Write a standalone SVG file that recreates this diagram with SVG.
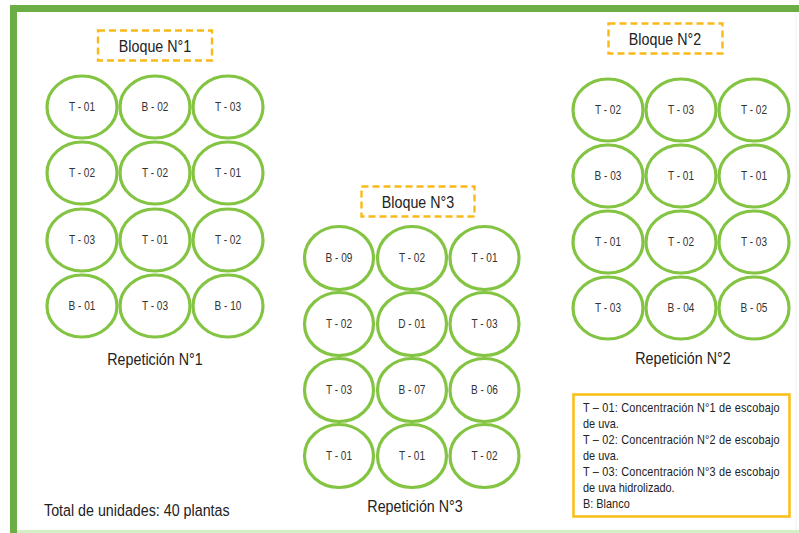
<svg xmlns="http://www.w3.org/2000/svg" width="799" height="533" viewBox="0 0 799 533">
  <style>
    .frame { fill: none; stroke: #6BAE45; }
    .plot ellipse { fill: #FFFFFF; stroke: #83C443; stroke-width: 3.2; }
    .plot text { font-family: "Liberation Sans", Arial, sans-serif; font-size: 12px; fill: #333333; text-anchor: middle;
                 transform-box: fill-box; transform-origin: center; transform: scaleX(0.84); }
    .tag rect { fill: none; stroke: #F9B91A; stroke-width: 2.4; stroke-dasharray: 7 4; }
    .title { font-family: "Liberation Sans", Arial, sans-serif; font-size: 17px; fill: #222222; text-anchor: middle;
             transform-box: fill-box; transform-origin: center; transform: scaleX(0.84); }
    .lead { font-family: "Liberation Sans", Arial, sans-serif; font-size: 17px; fill: #222222;
            transform-box: fill-box; transform-origin: left; transform: scaleX(0.84); }
    .note { font-family: "Liberation Sans", Arial, sans-serif; font-size: 13px; fill: #222222;
            transform-box: fill-box; transform-origin: left; transform: scaleX(0.84); }
  </style>

  <!-- page background and frame -->
  <rect x="0" y="0" width="799" height="533" fill="#FFFFFF"/>
  <line x1="17" y1="531.5" x2="799" y2="531.5" stroke="#D4EFC3" stroke-width="3"/>
  <line x1="796" y1="12" x2="796" y2="530" stroke="#F0F0F0" stroke-width="1"/>
  <line class="frame" x1="10" y1="8.5" x2="799" y2="8.5" stroke-width="7"/>
  <line class="frame" x1="13.5" y1="5" x2="13.5" y2="533" stroke-width="7"/>

  <!-- Block 1 -->
  <g id="bloque1">
    <g class="tag"><rect x="98" y="30.5" width="114" height="30"/></g>
    <text class="title" x="155" y="52">Bloque N°1</text>
    <g class="plot">
      <ellipse cx="82" cy="107" rx="35" ry="31"/><text x="82" y="111.3">T - 01</text>
      <ellipse cx="155" cy="107" rx="35" ry="31"/><text x="155" y="111.3">B - 02</text>
      <ellipse cx="228" cy="107" rx="35" ry="31"/><text x="228" y="111.3">T - 03</text>
      <ellipse cx="82" cy="173" rx="35" ry="31"/><text x="82" y="177.3">T - 02</text>
      <ellipse cx="155" cy="173" rx="35" ry="31"/><text x="155" y="177.3">T - 02</text>
      <ellipse cx="228" cy="173" rx="35" ry="31"/><text x="228" y="177.3">T - 01</text>
      <ellipse cx="82" cy="240" rx="35" ry="31"/><text x="82" y="244.3">T - 03</text>
      <ellipse cx="155" cy="240" rx="35" ry="31"/><text x="155" y="244.3">T - 01</text>
      <ellipse cx="228" cy="240" rx="35" ry="31"/><text x="228" y="244.3">T - 02</text>
      <ellipse cx="82" cy="306" rx="35" ry="31"/><text x="82" y="310.3">B - 01</text>
      <ellipse cx="155" cy="306" rx="35" ry="31"/><text x="155" y="310.3">T - 03</text>
      <ellipse cx="228" cy="306" rx="35" ry="31"/><text x="228" y="310.3">B - 10</text>
    </g>
    <text class="title" x="155" y="365">Repetición N°1</text>
  </g>

  <!-- Block 2 -->
  <g id="bloque2">
    <g class="tag"><rect x="608.5" y="23.5" width="114" height="30"/></g>
    <text class="title" x="665" y="45">Bloque N°2</text>
    <g class="plot">
      <ellipse cx="608" cy="110" rx="35" ry="31"/><text x="608" y="114.3">T - 02</text>
      <ellipse cx="681" cy="110" rx="35" ry="31"/><text x="681" y="114.3">T - 03</text>
      <ellipse cx="754" cy="110" rx="35" ry="31"/><text x="754" y="114.3">T - 02</text>
      <ellipse cx="608" cy="176" rx="35" ry="31"/><text x="608" y="180.3">B - 03</text>
      <ellipse cx="681" cy="176" rx="35" ry="31"/><text x="681" y="180.3">T - 01</text>
      <ellipse cx="754" cy="176" rx="35" ry="31"/><text x="754" y="180.3">T - 01</text>
      <ellipse cx="608" cy="242" rx="35" ry="31"/><text x="608" y="246.3">T - 01</text>
      <ellipse cx="681" cy="242" rx="35" ry="31"/><text x="681" y="246.3">T - 02</text>
      <ellipse cx="754" cy="242" rx="35" ry="31"/><text x="754" y="246.3">T - 03</text>
      <ellipse cx="608" cy="308" rx="35" ry="31"/><text x="608" y="312.3">T - 03</text>
      <ellipse cx="681" cy="308" rx="35" ry="31"/><text x="681" y="312.3">B - 04</text>
      <ellipse cx="754" cy="308" rx="35" ry="31"/><text x="754" y="312.3">B - 05</text>
    </g>
    <text class="title" x="683" y="364">Repetición N°2</text>
  </g>

  <!-- Block 3 -->
  <g id="bloque3">
    <g class="tag"><rect x="361.5" y="186.5" width="113" height="30"/></g>
    <text class="title" x="418" y="208">Bloque N°3</text>
    <g class="plot">
      <ellipse cx="339" cy="258" rx="34.5" ry="31.5"/><text x="339" y="262.3">B - 09</text>
      <ellipse cx="412" cy="258" rx="34.5" ry="31.5"/><text x="412" y="262.3">T - 02</text>
      <ellipse cx="484.5" cy="258" rx="34.5" ry="31.5"/><text x="484.5" y="262.3">T - 01</text>
      <ellipse cx="339" cy="324" rx="34.5" ry="31.5"/><text x="339" y="328.3">T - 02</text>
      <ellipse cx="412" cy="324" rx="34.5" ry="31.5"/><text x="412" y="328.3">D - 01</text>
      <ellipse cx="484.5" cy="324" rx="34.5" ry="31.5"/><text x="484.5" y="328.3">T - 03</text>
      <ellipse cx="339" cy="390" rx="34.5" ry="31.5"/><text x="339" y="394.3">T - 03</text>
      <ellipse cx="412" cy="390" rx="34.5" ry="31.5"/><text x="412" y="394.3">B - 07</text>
      <ellipse cx="484.5" cy="390" rx="34.5" ry="31.5"/><text x="484.5" y="394.3">B - 06</text>
      <ellipse cx="339" cy="456" rx="34.5" ry="31.5"/><text x="339" y="460.3">T - 01</text>
      <ellipse cx="412" cy="456" rx="34.5" ry="31.5"/><text x="412" y="460.3">T - 01</text>
      <ellipse cx="484.5" cy="456" rx="34.5" ry="31.5"/><text x="484.5" y="460.3">T - 02</text>
    </g>
    <text class="title" x="415" y="512">Repetición N°3</text>
  </g>

  <!-- total count -->
  <g id="total">
    <text class="lead" x="44" y="516">Total de unidades: 40 plantas</text>
  </g>

  <!-- legend -->
  <g id="leyenda">
    <rect x="573.5" y="394.5" width="216" height="122" fill="#FFFFFF" stroke="#F9C01C" stroke-width="2.6"/>
    <text class="note" x="583" y="412.5" textLength="234" lengthAdjust="spacing">T – 01: Concentración N°1 de escobajo</text>
    <text class="note" x="583" y="428.5">de uva.</text>
    <text class="note" x="583" y="444.5" textLength="234" lengthAdjust="spacing">T – 02: Concentración N°2 de escobajo</text>
    <text class="note" x="583" y="460.5">de uva.</text>
    <text class="note" x="583" y="476.5" textLength="234" lengthAdjust="spacing">T – 03: Concentración N°3 de escobajo</text>
    <text class="note" x="583" y="492.5">de uva hidrolizado.</text>
    <text class="note" x="583" y="508.5">B: Blanco</text>
  </g>
</svg>
